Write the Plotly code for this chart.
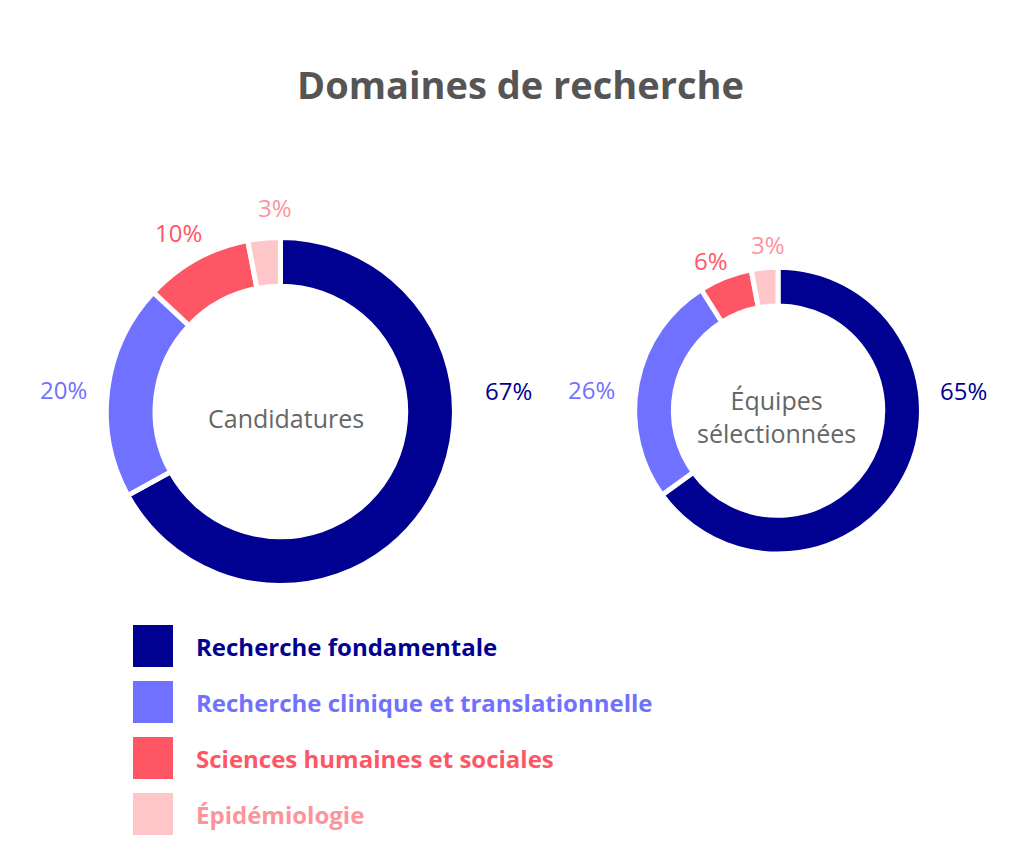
import plotly.graph_objects as go

categories = ["Recherche fondamentale", "Recherche clinique et translationnelle",
              "Sciences humaines et sociales", "Épidémiologie"]
candidatures = [67, 20, 10, 3]
selectionnees = [65, 26, 6, 3]
colors = ["#000091", "#7171FF", "#FF5665", "#FFC6CA"]
text_colors = ["#000091", "#7171FF", "#FF5665", "#FF939B"]
FONT = "Open Sans"

fig = go.Figure()
def donut(vals, dom, hole, name):
    fig.add_trace(go.Pie(
        values=vals, labels=categories, sort=False, direction="clockwise", rotation=0,
        hole=hole, domain=dom, marker=dict(colors=colors, line=dict(color="white", width=5)),
        textinfo="none", showlegend=False, hoverinfo="label+value", name=name))

donut(candidatures, dict(x=[0.096, 0.436], y=[0.330, 0.736]), 0.72, "Candidatures")
donut(selectionnees, dict(x=[0.610, 0.894], y=[0.368, 0.700]), 0.73, "Équipes sélectionnées")

# label positions (pixels) for each value
left_pos = [(500, 383), (55, 381), (170, 224), (267, 199)]
right_pos = [(955, 383), (583, 381), (703, 252), (760, 236)]
ann = [
    dict(text="<b>Domaines de recherche</b>", x=0.5, y=1 - 76/864, font=dict(size=38, color="#555555", family=FONT)),
    dict(text="Candidatures", x=278/1024, y=1 - 410/864, font=dict(size=25, color="#666666", family=FONT)),
    dict(text="Équipes<br>sélectionnées", x=768/1024, y=1 - 408/864, font=dict(size=25, color="#666666", family=FONT)),
]
for vals, pos in ((candidatures, left_pos), (selectionnees, right_pos)):
    for v, (px, py), col in zip(vals, pos, text_colors):
        ann.append(dict(text=f"{v}%", x=px/1024, y=1 - py/864,
                        font=dict(size=24, color=col, family=FONT)))
shapes = []
for i, (c, col, tc) in enumerate(zip(categories, colors, text_colors)):
    yc = 638 + i * 56
    shapes.append(dict(type="rect", xref="paper", yref="paper", x0=125/1024, x1=165/1024,
                       y0=1 - (yc + 21)/864, y1=1 - (yc - 21)/864, fillcolor=col, line=dict(width=0)))
    ann.append(dict(text=f"<b>{c}</b>", x=186/1024, y=1 - yc/864, xanchor="left",
                    font=dict(size=24, color=tc, family=FONT)))
for a in ann:
    a.update(xref="paper", yref="paper", showarrow=False)
    a.setdefault("xanchor", "center")
    a["yanchor"] = "middle"

fig.update_layout(width=1024, height=864, margin=dict(l=0, r=0, t=0, b=0),
                  paper_bgcolor="white", plot_bgcolor="white", annotations=ann, shapes=shapes)
fig.write_html("out.html")
